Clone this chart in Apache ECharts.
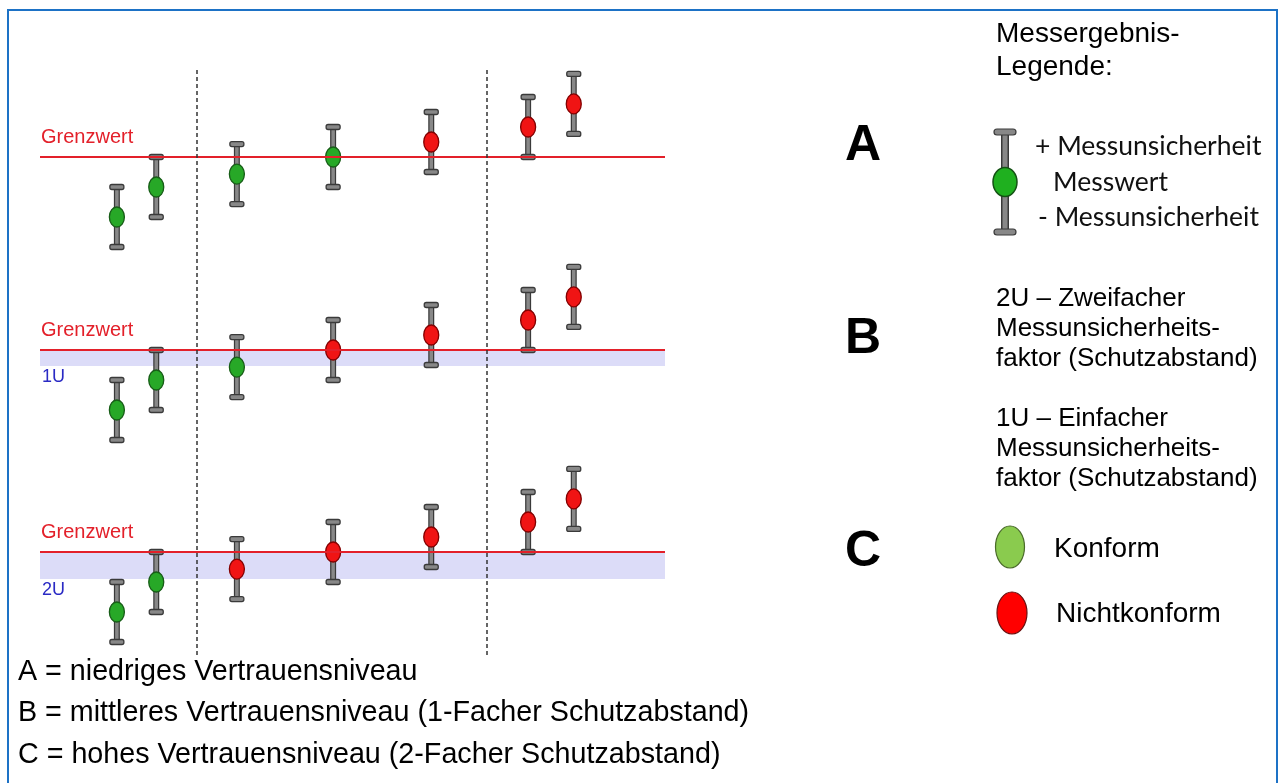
<!DOCTYPE html>
<html>
<head>
<meta charset="utf-8">
<title>Messergebnis</title>
<script src="https://cdn.jsdelivr.net/npm/echarts@6/dist/echarts.min.js"></script>
<style>
html,body{margin:0;padding:0;background:#fff;}
#chart{width:1283px;height:783px;}
</style>
</head>
<body>
<div id="chart"></div>
<script>
// Messpunkte (gleich in allen drei Feldern)
var xPos = [12.3, 18.6, 31.5, 46.9, 62.6, 78.1, 85.4];
var messwerte = [80, 90, 94.3, 100, 105, 110, 117.7];
var unsicherheit = 10;
var grenzwert = 100;
var trennlinien = [25, 71.4];

// Felder A / B / C
var panels = ['A', 'B', 'C'];
var schutzband = [0, 5.3, 9];
var bandLabels = ['', '1U', '2U'];
// 1 = konform (gruen), 0 = nicht konform (rot)
var statusA = [1, 1, 1, 1, 0, 0, 0];
var statusB = [1, 1, 1, 0, 0, 0, 0];
var statusC = [1, 1, 0, 0, 0, 0, 0];
var konformPanels = [statusA, statusB, statusC];   // nicht "status" nennen: window.status!

var bottomLines = [
	'A = niedriges Vertrauensniveau',
	'B = mittleres Vertrauensniveau (1-Facher Schutzabstand)',
	'C = hohes Vertrauensniveau (2-Facher Schutzabstand)'
];

var FONT = '"Liberation Sans", Arial, sans-serif';
var FONT2 = 'Lato, "Open Sans", sans-serif';
var GREEN = '#27a827', GREEN_DARK = '#175c17';
var RED = '#f01414', RED_DARK = '#820000';
var panelTops = [67, 260, 462];

function errorBarRenderer(panelIdx){
	return function(params, api){
		var x = api.value(0);
		var p = api.coord([x, api.value(1)]);
		var lo = api.coord([x, api.value(2)]);
		var hi = api.coord([x, api.value(3)]);
		var ok = konformPanels[panelIdx][params.dataIndex] === 1;
		var capW = 14;
		return {
			type: 'group',
			children: [
				{type: 'line', shape: {x1: p[0], y1: hi[1], x2: p[0], y2: lo[1]}, style: {stroke: '#3a3a3a', lineWidth: 6}},
				{type: 'line', shape: {x1: p[0], y1: hi[1], x2: p[0], y2: lo[1]}, style: {stroke: '#888888', lineWidth: 3.5}},
				{type: 'rect', shape: {x: p[0] - capW / 2, y: hi[1] - 2.5, width: capW, height: 5, r: 2}, style: {fill: '#888888', stroke: '#3a3a3a', lineWidth: 1.3}},
				{type: 'rect', shape: {x: p[0] - capW / 2, y: lo[1] - 2.5, width: capW, height: 5, r: 2}, style: {fill: '#888888', stroke: '#3a3a3a', lineWidth: 1.3}},
				{type: 'ellipse', shape: {cx: p[0], cy: p[1], rx: 7.5, ry: 10},
					style: {fill: ok ? GREEN : RED, stroke: ok ? GREEN_DARK : RED_DARK, lineWidth: 1.3}}
			]
		};
	};
}

function buildOption(){
	var grids = [], xAxes = [], yAxes = [], series = [];
	panels.forEach(function(name, i){
		grids.push({left: 40, width: 625, top: panelTops[i], height: 195});
		xAxes.push({type: 'value', gridIndex: i, min: 0, max: 100, show: false});
		yAxes.push({type: 'value', gridIndex: i, min: 65, max: 130, show: false});
		// Grenzwert + Schutzband
		series.push({
			type: 'line', xAxisIndex: i, yAxisIndex: i, data: [], z: 1, silent: true,
			markArea: schutzband[i] ? {
				silent: true,
				itemStyle: {color: '#dcdcf8'},
				data: [[{yAxis: grenzwert - schutzband[i]}, {yAxis: grenzwert}]]
			} : undefined,
			markLine: {
				silent: true, symbol: ['none', 'none'],
				lineStyle: {color: '#e3202a', width: 2, type: 'solid'},
				label: {show: false},
				data: [{yAxis: grenzwert}]
			}
		});
		series.push({
			type: 'custom', name: name, xAxisIndex: i, yAxisIndex: i, z: 3,
			renderItem: errorBarRenderer(i),
			data: xPos.map(function(x, k){
				return [x, messwerte[k], messwerte[k] - unsicherheit, messwerte[k] + unsicherheit];
			})
		});
	});
	// Trennlinien ueber alle Felder
	grids.push({left: 40, width: 625, top: 68, height: 587});
	xAxes.push({type: 'value', gridIndex: 3, min: 0, max: 100, show: false});
	yAxes.push({type: 'value', gridIndex: 3, min: 0, max: 1, show: false});
	series.push({
		type: 'line', xAxisIndex: 3, yAxisIndex: 3, data: [], z: 2, silent: true,
		markLine: {
			silent: true, symbol: ['none', 'none'],
			lineStyle: {color: '#333', width: 1.5, type: [4, 3]},
			label: {show: false},
			data: trennlinien.map(function(v){ return {xAxis: v}; })
		}
	});
	return {
		animation: false,
		backgroundColor: '#fff',
		grid: grids, xAxis: xAxes, yAxis: yAxes, series: series
	};
}

function txt(x, y, text, size, color, font, extra){
	var st = {text: text, x: x, y: y, fill: color || '#000', font: (extra || '') + size + 'px ' + (font || FONT), verticalAlign: 'middle', align: 'left'};
	return {type: 'text', style: st, z: 10};
}

function buildGraphic(chart){
	var els = [];
	// Rahmen
	els.push({type: 'rect', shape: {x: 8, y: 10, width: 1269, height: 790}, style: {fill: 'none', stroke: '#1d72c6', lineWidth: 2}, z: 20});
	// Beschriftungen in den Feldern
	panels.forEach(function(name, i){
		var pl = chart.convertToPixel({xAxisIndex: i, yAxisIndex: i}, [0, grenzwert]);
		els.push(txt(pl[0] + 1, pl[1] - 20, 'Grenzwert', 20, '#e3202a'));
		if(bandLabels[i]){
			var pb = chart.convertToPixel({xAxisIndex: i, yAxisIndex: i}, [0, grenzwert - schutzband[i]]);
			els.push(txt(pl[0] + 2, pb[1] + 11, bandLabels[i], 18, '#2a2ac4'));
		}
	});
	// rechte Legende
	els.push(txt(996, 34, 'Messergebnis-', 28, '#000'));
	els.push(txt(996, 67, 'Legende:', 28, '#000'));
	var letterY = [146, 339, 552];
	panels.forEach(function(name, i){
		var t = txt(863, letterY[i], name, 50, '#000', FONT, 'bold ');
		t.style.align = 'center';
		els.push(t);
	});
	// Legendensymbol Fehlerbalken
	els.push({type: 'line', shape: {x1: 1005, y1: 132, x2: 1005, y2: 232}, style: {stroke: '#3a3a3a', lineWidth: 8}, z: 10});
	els.push({type: 'line', shape: {x1: 1005, y1: 132, x2: 1005, y2: 232}, style: {stroke: '#888888', lineWidth: 5}, z: 10});
	els.push({type: 'rect', shape: {x: 994, y: 129, width: 22, height: 6, r: 3}, style: {fill: '#888888', stroke: '#3a3a3a', lineWidth: 1.2}, z: 10});
	els.push({type: 'rect', shape: {x: 994, y: 229, width: 22, height: 6, r: 3}, style: {fill: '#888888', stroke: '#3a3a3a', lineWidth: 1.2}, z: 10});
	els.push({type: 'ellipse', shape: {cx: 1005, cy: 182, rx: 12, ry: 14.5}, style: {fill: '#1fb01f', stroke: '#145214', lineWidth: 1.5}, z: 11});
	els.push(txt(1035, 146, '+ Messunsicherheit', 26.5, '#111', FONT2));
	els.push(txt(1053, 182, 'Messwert', 26.5, '#111', FONT2));
	els.push(txt(1038, 217, '- Messunsicherheit', 26.5, '#111', FONT2));
	// 2U / 1U Erklaerung
	['2U \u2013 Zweifacher', 'Messunsicherheits-', 'faktor (Schutzabstand)'].forEach(function(s, k){
		els.push(txt(996, 299 + k * 30, s, 26, '#000'));
	});
	['1U \u2013 Einfacher', 'Messunsicherheits-', 'faktor (Schutzabstand)'].forEach(function(s, k){
		els.push(txt(996, 419 + k * 30, s, 26, '#000'));
	});
	// Konform / Nichtkonform
	els.push({type: 'ellipse', shape: {cx: 1010, cy: 547, rx: 14.5, ry: 21}, style: {fill: '#8acb4e', stroke: '#4a6b2a', lineWidth: 1.2}, z: 10});
	els.push(txt(1054, 549, 'Konform', 28, '#000'));
	els.push({type: 'ellipse', shape: {cx: 1012, cy: 613, rx: 15, ry: 21}, style: {fill: '#ff0000', stroke: '#6b1010', lineWidth: 1.2}, z: 10});
	els.push(txt(1056, 614, 'Nichtkonform', 28, '#000'));
	// Erklaerung unten
	bottomLines.forEach(function(s, k){
		els.push(txt(18, 672 + k * 41.5, s, 28.7, '#000'));
	});
	return els;
}

function init(){
	var chart = echarts.init(document.getElementById('chart'), null, {renderer: 'canvas'});
	chart.setOption(buildOption());
	chart.setOption({graphic: {elements: buildGraphic(chart)}});
}
init();
</script>
</body>
</html>
